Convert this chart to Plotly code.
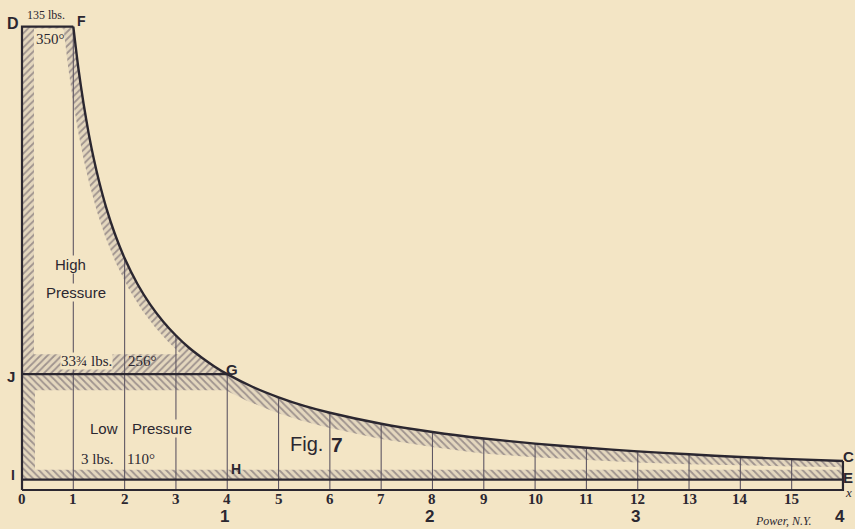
import numpy as np
import plotly.graph_objects as go

# ---------------- data ----------------
stroke_ticks = list(range(16))                 # high-pressure volume divisions 0..15
stroke_labels = [str(v) for v in stroke_ticks]
lp_ticks = [4, 8, 12, 16]                      # low-pressure volume divisions
lp_labels = ["1", "2", "3", "4"]

# expansion curve F -> G -> C  (pressure, lbs, against volume division)
curve_x = [1, 1.1, 1.2, 1.3, 1.4, 1.5, 1.65, 1.8, 2, 2.25, 2.5, 2.75, 3, 3.25, 3.5,
           3.75, 4, 4.5, 5, 5.5, 6, 7, 8, 9, 10, 11, 12, 13, 14, 15, 16]
curve_p = [135, 122.7, 112.5, 103.8, 96.4, 90, 81.8, 75, 67.5, 60, 54, 49.1, 45, 41.5, 38.6,
           36, 33.75, 30, 27, 24.5, 22.5, 19.3, 16.9, 15, 13.5, 12.3, 11.25, 10.4, 9.6, 9, 8.44]

admission_p = 135      # D-F line, 135 lbs
cutoff_x = 1           # F
hp_release_x = 4       # G
receiver_p = 33.75     # J-G line, 33 3/4 lbs
exhaust_p = 3          # I-E line, 3 lbs
stroke_end = 16        # C / E

# ---------------- geometry / style ----------------
W, H = 855, 529
X0, KX = 22.0, 51.31          # px of x=0, px per division
Y0, KY = 490.0, 3.433         # px of p=0, px per lb
PAPER = "#f3e5c5"
INK = "#2b2730"
THIN = "#5f5763"
HATCH_FG = "#5a505e"
HATCH_BG = "#e4d7be"

xr = [-X0 / KX, (W - X0) / KX]
yr = [(Y0 - H) / KY, Y0 / KY]

cx = np.array(curve_x, float)
cp = np.array(curve_p, float)


def to_px(x, p):
    return X0 + KX * np.asarray(x), Y0 - KY * np.asarray(p)


def from_px(X, Y):
    return (np.asarray(X) - X0) / KX, (Y0 - np.asarray(Y)) / KY


def offset_curve(xs, ps, d):
    X, Y = to_px(xs, ps)
    tx, ty = np.gradient(X), np.gradient(Y)
    n = np.hypot(tx, ty)
    nx, ny = -ty / n, tx / n            # points inward (left / down)
    return from_px(X + d * nx, Y + d * ny)


fig = go.Figure()


def add_poly(xs, ys, **kw):
    fig.add_trace(go.Scatter(x=list(xs), y=list(ys), mode="lines", fill="toself",
                             line=dict(width=0), hoverinfo="skip", **kw))


# ---- outer hatched regions ----
hp_mask = cx <= hp_release_x
lp_mask = cx >= hp_release_x
hp_x = [0, 0] + list(cx[hp_mask]) + [hp_release_x]
hp_y = [receiver_p, admission_p] + list(cp[hp_mask]) + [receiver_p]
lp_x = [0] + list(cx[lp_mask]) + [stroke_end, 0]
lp_y = [receiver_p] + list(cp[lp_mask]) + [exhaust_p, exhaust_p]

add_poly(lp_x, lp_y, fillpattern=dict(shape="\\", fgcolor=HATCH_FG, bgcolor=HATCH_BG,
                                      size=5, solidity=0.35))
add_poly(hp_x, hp_y, fillpattern=dict(shape="/", fgcolor=HATCH_FG, bgcolor=HATCH_BG,
                                      size=5, solidity=0.35))

# ---- clear inner region, high pressure ----
ox, op = offset_curve(cx, cp, 10.0)
xl = 12 / KX
hi = admission_p - 2 / KY
lo = receiver_p + 20 / KY
sel = (op <= hi) & (op >= lo) & (cx <= hp_release_x)
x_hi = np.interp(hi, op[::-1], ox[::-1])
x_lo = np.interp(lo, op[::-1], ox[::-1])
add_poly([xl, xl, x_hi] + list(ox[sel]) + [x_lo],
         [lo, hi, hi] + list(op[sel]) + [lo], fillcolor=PAPER)

# ---- clear inner region, low pressure ----
dl = np.interp(cx, [4, 9, 16], [15, 15, 6])
ox2, op2 = offset_curve(cx, cp, dl)
xl2 = 13 / KX
top2 = receiver_p - 16 / KY
bot2 = exhaust_p + 10 / KY
xend = stroke_end - 4 / KX
x_top = np.interp(top2, op2[::-1], ox2[::-1])
p_end = np.interp(xend, ox2, op2)
sel2 = (op2 < top2) & (ox2 < xend)
add_poly([xl2, xl2, x_top] + list(ox2[sel2]) + [xend, xend],
         [bot2, top2, top2] + list(op2[sel2]) + [p_end, bot2], fillcolor=PAPER)

# ---- thin ordinates at each division ----
vx, vy = [], []
for t in stroke_ticks[1:]:
    top = cp[np.where(cx == t)[0][0]]
    vx += [t, t, None]
    vy += [0, top, None]
fig.add_trace(go.Scatter(x=vx, y=vy, mode="lines", line=dict(color=THIN, width=1.1),
                         hoverinfo="skip"))

# ---- heavy outline ----
hx = [0, 0, cutoff_x, None, 0, hp_release_x, None, 0, stroke_end, None,
      0, stroke_end, stroke_end, None]
hy = [0, admission_p, admission_p, None, receiver_p, receiver_p, None,
      exhaust_p, exhaust_p, None, 0, 0, cp[-1], None]
fig.add_trace(go.Scatter(x=hx, y=hy, mode="lines", line=dict(color=INK, width=2.2),
                         hoverinfo="skip"))
fig.add_trace(go.Scatter(x=cx, y=cp, mode="lines",
                         line=dict(color=INK, width=2.4, shape="spline", smoothing=0.6),
                         hoverinfo="skip"))

# ---------------- text ----------------
SERIF = "Liberation Serif, DejaVu Serif, serif"
SANS = "Liberation Sans, DejaVu Sans, sans-serif"


def label(px, py, text, size, family=SANS, mask=False, color=INK):
    x, p = from_px(px, py)
    fig.add_annotation(x=float(x), y=float(p), xref="x", yref="y", text=text,
                       showarrow=False, xanchor="center", yanchor="middle",
                       font=dict(family=family, size=size, color=color),
                       bgcolor=PAPER if mask else None, borderpad=0)


label(13, 23, "<b>D</b>", 16)
label(46, 15, "135 lbs.", 12, SERIF)
label(81, 21, "<b>F</b>", 14)
label(50, 39, "350°", 15, SERIF)
label(70, 264, "High", 15, SANS, mask=True)
label(76, 292, "Pressure", 15, SANS, mask=True)
label(86, 361, "33¾ lbs.", 15, SERIF, mask=True)
label(142, 361, "256°", 15, SERIF)
label(11, 376, "<b>J</b>", 15)
label(232, 369, "<b>G</b>", 15)
label(104, 428, "Low", 15, SANS)
label(162, 428, "Pressure", 15, SANS, mask=True)
label(97, 459, "3 lbs.", 15, SERIF)
label(141, 459, "110°", 15, SERIF)
label(13, 475, "<b>I</b>", 14)
label(236, 469, "<b>H</b>", 14)
label(306, 444, "Fig.", 20, SANS)
label(337, 444, "<b>7</b>", 21, SANS)
label(848, 456, "<b>C</b>", 15)
label(848, 477, "<b>E</b>", 15)
label(848, 492, "<i>x</i>", 13, SERIF)

for t, s in zip(stroke_ticks, stroke_labels):
    fig.add_annotation(x=t, y=float(from_px(0, 499)[1]), xref="x", yref="y", text="<b>" + s + "</b>",
                       showarrow=False, xanchor="center", yanchor="middle",
                       font=dict(family=SERIF, size=15, color=INK))
for t, s in zip(lp_ticks, lp_labels):
    fig.add_annotation(x=t - 0.05, y=float(from_px(0, 516)[1]), xref="x", yref="y",
                       text="<b>" + s + "</b>", showarrow=False,
                       xanchor="center", yanchor="middle",
                       font=dict(family=SANS, size=17, color=INK))
label(783, 521, "<i>Power, N.Y.</i>", 12, SERIF)

fig.update_layout(
    width=W, height=H, margin=dict(l=0, r=0, t=0, b=0, pad=0),
    paper_bgcolor=PAPER, plot_bgcolor=PAPER, showlegend=False,
    xaxis=dict(range=xr, visible=False, fixedrange=True),
    yaxis=dict(range=yr, visible=False, fixedrange=True),
)
fig.write_html(
    "out.html",
    config={"displayModeBar": False},
    post_script="document.body.style.margin='0';document.body.style.overflow='hidden';"
                "document.body.style.background='" + PAPER + "';",
)
